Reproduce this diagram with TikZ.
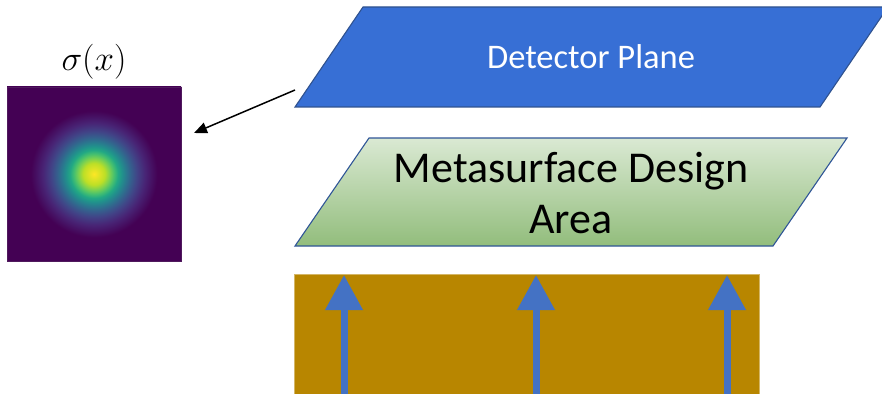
\RequirePackage{fix-cm}
\documentclass[tikz,border=0pt]{standalone}
\usepackage{fontspec}
\newfontfamily\carlito{Carlito}
\usetikzlibrary{arrows.meta}
\definecolor{detblue}{RGB}{55,111,213}
\definecolor{detedge}{RGB}{47,82,143}
\definecolor{msedge}{RGB}{47,85,151}
\definecolor{mstop}{RGB}{218,233,211}
\definecolor{msbot}{RGB}{146,189,124}
\definecolor{gold}{RGB}{184,134,0}
\definecolor{rayblue}{RGB}{68,114,196}
\definecolor{v0}{RGB}{68,1,84}
\definecolor{v1}{RGB}{72,36,117}
\definecolor{v2}{RGB}{65,68,135}
\definecolor{v3}{RGB}{53,95,141}
\definecolor{v4}{RGB}{42,120,142}
\definecolor{v5}{RGB}{33,145,140}
\definecolor{v6}{RGB}{34,168,132}
\definecolor{v7}{RGB}{68,191,112}
\definecolor{v8}{RGB}{122,209,81}
\definecolor{v9}{RGB}{189,223,38}
\definecolor{v10}{RGB}{253,231,37}
\pgfdeclareradialshading{viri}{\pgfpoint{0bp}{0bp}}{%
color(0bp)=(v10); color(3.1bp)=(v9); color(4.55bp)=(v8); color(5.8bp)=(v7);
color(6.9bp)=(v6); color(8.05bp)=(v5); color(9.3bp)=(v4); color(10.65bp)=(v3);
color(12.3bp)=(v2); color(14.7bp)=(v1); color(18.2bp)=(v0); color(50bp)=(v0)}
\tikzset{
  ray/.style={draw=rayblue, line width=7pt, -{Triangle[width=36pt,length=35pt]}},
  plane/.style={line width=1.1pt, line join=miter},
}
\begin{document}
\begin{tikzpicture}[x=1pt,y=-1pt]
\useasboundingbox (0,0) rectangle (882,393);
\clip (0,0) rectangle (882,393);
% heatmap
\node[shade, shading=viri, minimum size=174pt, inner sep=0pt, draw=v0!80!gray, line width=0.4pt] (hm) at (94,174) {};
\node (sig) at (94,62) {\fontsize{35}{42}\selectfont $\sigma(x)$};
% detector plane
\path[plane, fill=detblue, draw=detedge] (363,7) -- (888,7) -- (820,107) -- (295,107) -- cycle;
\node[text=white, font=\carlito\fontsize{34.5}{40}\selectfont] (dp) at (591,57) {Detector Plane};
% metasurface
\path[plane, top color=mstop, bottom color=msbot, draw=msedge] (369,138) -- (847,138) -- (773,246) -- (295,246) -- cycle;
\node[align=center, font=\carlito\fontsize{44}{51}\selectfont, inner sep=0pt] (ms) at (571,193) {Metasurface Design\\Area};
% source
\node[fill=gold, draw=gold!60!white, line width=0.6pt, minimum width=465pt, minimum height=130pt, inner sep=0pt, anchor=north west] (src) at (294,274) {};
\foreach \i/\x in {1/344,2/536,3/727}{
  \coordinate (s\i) at (\x,400);
  \coordinate (t\i) at (\x,275);
  \draw[ray] (s\i) -- (t\i);
}
% arrow
\coordinate (dpl) at (295,90);
\coordinate (hmt) at (194,133);
\draw[line width=1.5pt, -{Triangle[width=11pt,length=13pt]}] (dpl) -- (hmt);
\end{tikzpicture}
\end{document}
